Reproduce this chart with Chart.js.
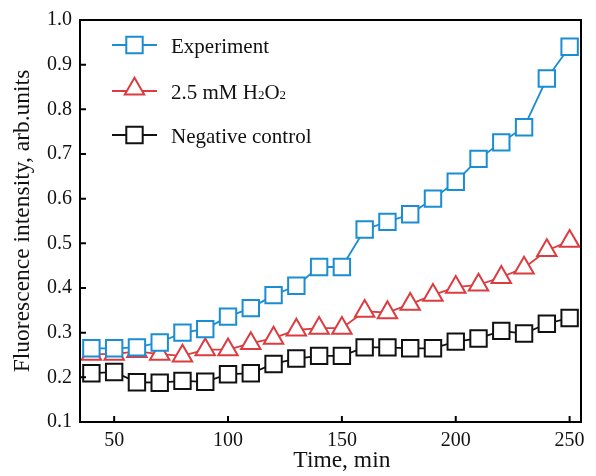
<!DOCTYPE html>
<html>
<head>
<meta charset="utf-8">
<script src="https://cdn.jsdelivr.net/npm/chart.js@4.4.1/dist/chart.umd.min.js"></script>
<style>
  html, body { margin: 0; padding: 0; background: #fff; }
  #wrap { width: 596px; height: 476px; }
</style>
</head>
<body>
<div id="wrap"><canvas id="myChart" width="596" height="476"></canvas></div>
<script>
// time points (min)
const times = [40, 50, 60, 70, 80, 90, 100, 110, 120, 130, 140, 150, 160, 170, 180, 190, 200, 210, 220, 230, 240, 250];

// fluorescence
const experiment = [0.265, 0.265, 0.267, 0.278, 0.300, 0.308, 0.336, 0.355, 0.384, 0.405, 0.447, 0.447,
    0.531, 0.548, 0.565, 0.600, 0.638, 0.689, 0.726, 0.760, 0.869, 0.940];
const h2o2 = [0.252, 0.252, 0.258, 0.252, 0.248, 0.262, 0.262, 0.276, 0.288, 0.306, 0.310, 0.310,
    0.348, 0.345, 0.364, 0.384, 0.402, 0.407, 0.424, 0.445, 0.484, 0.505];
const control = [0.209, 0.212, 0.189, 0.188, 0.192, 0.190, 0.207, 0.209, 0.230, 0.242, 0.248, 0.248,
    0.267, 0.267, 0.265, 0.265, 0.280, 0.287, 0.304, 0.298, 0.320, 0.333];

const seriesNames = ['Experiment', '2.5 mM H2O2', 'Negative control'];
const colors = ['#1a8dd3', '#dc3c40', '#111111'];
const styles = ['rect', 'triangle', 'rect'];

const xTicks = [50, 100, 150, 200, 250];
const yTicks = [0.1, 0.2, 0.3, 0.4, 0.5, 0.6, 0.7, 0.8, 0.9, 1.0];
const xTitle = 'Time, min';

const serif = 'Liberation Serif, Times New Roman, serif';

function pts(vals) {
    return times.map((t, i) => ({ x: t, y: vals[i] }));
}

function makeSet(i, vals) {
    return {
        label: seriesNames[i],
        data: pts(vals),
        borderColor: colors[i],
        borderWidth: 1.8,
        pointStyle: styles[i],
        pointRadius: styles[i] === 'rect' ? 11.6 : 11.2,
        pointBorderWidth: 2,
        pointBorderColor: colors[i],
        pointBackgroundColor: '#fff',
        fill: false,
        tension: 0
    };
}

// markers drawn by hand for the legend
function marker(ctx, style, r, x, y) {
    ctx.beginPath();
    if (style === 'rect') {
        const s = r * Math.SQRT1_2;
        ctx.rect(x - s, y - s, 2 * s, 2 * s);
    } else {
        for (let k = 0; k < 3; k++) {
            const a = k * 2 * Math.PI / 3;
            const px = x + Math.sin(a) * r, py = y - Math.cos(a) * r;
            if (k === 0) ctx.moveTo(px, py); else ctx.lineTo(px, py);
        }
        ctx.closePath();
    }
    ctx.fill();
    ctx.stroke();
}

const legendBox = {
    id: 'legendBox',
    afterDraw(chart) {
        const ctx = chart.ctx;
        const rows = [45, 91, 135];
        chart.data.datasets.forEach((ds, i) => {
            const y = rows[i];
            ctx.save();
            ctx.strokeStyle = ds.borderColor;
            ctx.lineWidth = ds.borderWidth;
            ctx.beginPath();
            ctx.moveTo(112, y);
            ctx.lineTo(157, y);
            ctx.stroke();
            ctx.fillStyle = '#fff';
            ctx.lineWidth = 2;
            marker(ctx, ds.pointStyle, ds.pointRadius, 134.5, ds.pointStyle === 'triangle' ? y - 2 : y);

            // label, digits after a letter go small (H2O2)
            ctx.fillStyle = '#111';
            ctx.textBaseline = 'alphabetic';
            let x = 171;
            const txt = ds.label;
            for (let c = 0; c < txt.length; c++) {
                const ch = txt[c];
                const sub = /\d/.test(ch) && c > 0 && /[A-Za-z]/.test(txt[c - 1]);
                ctx.font = (sub ? '13px ' : '21px ') + serif;
                ctx.fillText(ch, x, y + 7.5);
                x += ctx.measureText(ch).width;
            }
            ctx.restore();
        });
    }
};

// box round the plot, inward ticks, x title under the 150 tick like the original
const frame = {
    id: 'frame',
    afterDraw(chart) {
        const { ctx, chartArea: a, scales } = chart;
        ctx.save();
        ctx.strokeStyle = '#000';
        ctx.lineWidth = 2;
        ctx.strokeRect(a.left, a.top, a.right - a.left, a.bottom - a.top);
        ctx.beginPath();
        xTicks.forEach(v => {
            const px = scales.x.getPixelForValue(v);
            ctx.moveTo(px, a.bottom);
            ctx.lineTo(px, a.bottom - 6);
        });
        yTicks.forEach(v => {
            const py = scales.y.getPixelForValue(v);
            ctx.moveTo(a.left, py);
            ctx.lineTo(a.left + 6, py);
        });
        ctx.stroke();

        ctx.fillStyle = '#111';
        ctx.font = '23.5px ' + serif;
        ctx.textAlign = 'center';
        ctx.textBaseline = 'alphabetic';
        ctx.fillText(xTitle, scales.x.getPixelForValue(150), 467);
        ctx.restore();
    }
};

const ctx = document.getElementById('myChart');
new Chart(ctx, {
    type: 'line',
    data: {
        datasets: [makeSet(0, experiment), makeSet(1, h2o2), makeSet(2, control)]
    },
    options: {
        responsive: false,
        animation: false,
        devicePixelRatio: 1,
        layout: { padding: { top: 13, right: 15, left: 0, bottom: 0 } },
        plugins: {
            legend: { display: false },
            tooltip: { enabled: false }
        },
        scales: {
            x: {
                type: 'linear',
                min: 35,
                max: 255,
                afterFit: s => { s.height = 54; },
                afterBuildTicks: s => { s.ticks = xTicks.map(v => ({ value: v })); },
                grid: { display: false, drawTicks: false },
                border: { display: false },
                ticks: {
                    color: '#111',
                    padding: 7,
                    maxRotation: 0,
                    font: { family: serif, size: 20 }
                },
                title: { display: false }
            },
            y: {
                min: 0.1,
                max: 1.0,
                afterFit: s => { s.width = 80; },
                afterBuildTicks: s => { s.ticks = yTicks.map(v => ({ value: v })); },
                grid: { display: false, drawTicks: false },
                border: { display: false },
                ticks: {
                    color: '#111',
                    padding: 8,
                    font: { family: serif, size: 20 },
                    callback: v => Number(v).toFixed(1)
                },
                title: {
                    display: true,
                    text: 'Fluorescence intensity, arb.units',
                    color: '#111',
                    padding: { top: 9, bottom: 0 },
                    font: { family: serif, size: 23.5 }
                }
            }
        }
    },
    plugins: [legendBox, frame]
});
</script>
</body>
</html>
